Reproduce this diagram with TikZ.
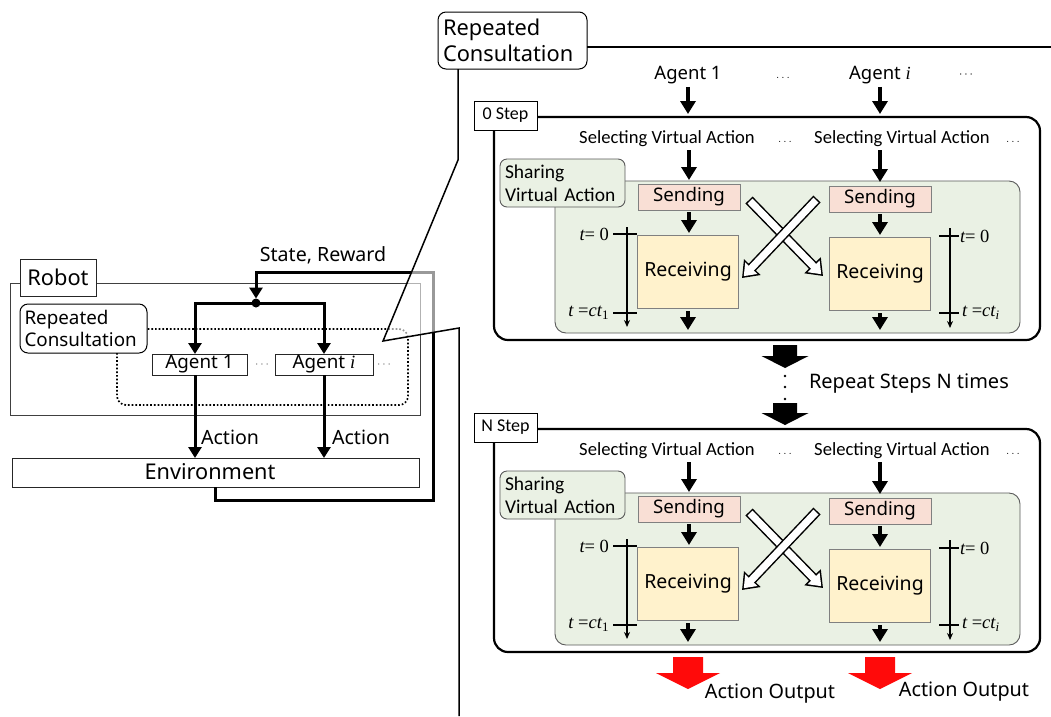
\documentclass[tikz,border=0pt]{standalone}
\usepackage{fontspec}
\newfontfamily\mfont{Noto Sans}
\newfontfamily\cfont{Carlito}
\newfontfamily\vfont{Liberation Serif}
\usetikzlibrary{arrows.meta}
\definecolor{panelgreen}{HTML}{EAF1E4}
\definecolor{sendpink}{HTML}{F9DFD5}
\definecolor{recvyellow}{HTML}{FFF2CC}
\definecolor{outred}{HTML}{FF0A0A}
\newcommand\fs[2]{\fontsize{#1}{#2}\selectfont}
% italic variable letters in a serif face
\newcommand\ti[1]{{\vfont\itshape #1}}

\tikzset{
  every node/.style={inner sep=0pt, outer sep=0pt},
  mtxt/.style={font=\mfont\fs{19.6}{23}},
  ctxt/.style={font=\cfont\fs{18.6}{22}},
  dotstxt/.style={font=\fs{13}{15}},
  framebox/.style={draw=black!75, line width=0.9pt},
  whitebox/.style={draw=black!85, line width=0.9pt, fill=white},
  roundlab/.style={draw=black, line width=1pt, fill=white, rounded corners=8pt},
  stepframe/.style={draw=black, line width=2.2pt, rounded corners=14pt},
  steplabel/.style={draw=black, line width=1pt, fill=white, font=\cfont\fs{18}{20}},
  greenpanel/.style={draw=black!65, line width=0.9pt, fill=panelgreen, rounded corners=11pt},
  greenlabel/.style={draw=black!65, line width=0.9pt, fill=panelgreen, rounded corners=7pt,
    font=\cfont\fs{19.5}{23}, text width=115pt, align=left},
  sendbox/.style={draw=black!50, line width=0.9pt, fill=sendpink, font=\mfont\fs{18.7}{22},
    minimum width=102pt, minimum height=26pt},
  recvbox/.style={draw=black!50, line width=0.9pt, fill=recvyellow, font=\mfont\fs{19.5}{22},
    minimum width=101pt, minimum height=73pt},
  thickarrow/.style={line width=3pt, -{Triangle[length=11pt,width=13pt]}},
  smallarrow/.style={line width=4.5pt, -{Triangle[length=13pt,width=15pt]}},
  timearrow/.style={line width=1.4pt, -{Stealth[length=7pt,width=6pt]}},
  tickline/.style={line width=1.4pt},
  mathlab/.style={font=\vfont\fs{18.5}{21}},
}

% hollow (outlined) arrow between two named points
\newcommand\hollowarrow[2]{%
  \draw[line width=10pt, -{Triangle[length=15pt,width=22pt]}] (#1) -- (#2);
  \draw[white, line width=7pt, -{Triangle[length=11pt,width=16pt]},
        shorten <=1.5pt, shorten >=2.5pt] (#1) -- (#2);
}

% one consultation step: #1 name prefix, #2 label, #3 vertical shift
\newcommand\StepPanel[3]{%
\begin{scope}[yshift=#3, name prefix=#1-]
  \node[stepframe, minimum width=546pt, minimum height=223pt] (frame) at (767,228.5) {};
  \node[steplabel, minimum width=63pt, minimum height=29pt] (label) at (505.5,115.5) {#2};
  \node[ctxt] (sel1) at (667,139) {Selecting Virtual Action};
  \node[ctxt] (sel2) at (902,139) {Selecting Virtual Action};
  \node[dotstxt] (dotsA) at (785,142) {$\ldots$};
  \node[dotstxt] (dotsB) at (1013,142) {$\ldots$};
  \node[greenpanel, minimum width=465pt, minimum height=152pt] (share) at (787.5,257) {};
  \node[greenlabel, minimum width=125pt, minimum height=48pt] (sharelab) at (562.5,183) {Sharing\\Virtual Action};
  \node[sendbox] (send1) at (689,197) {Sending};
  \node[sendbox] (send2) at (880,199) {Sending};
  \node[recvbox] (recv1) at (688,271.5) {Receiving};
  \node[recvbox] (recv2) at (880,273.5) {Receiving};
  % virtual action flow
  \draw[smallarrow, shorten >=4pt] ([yshift=-3pt]send1.north |- sel1.south) -- (send1.north);
  \draw[smallarrow, shorten >=4pt] ([yshift=-3pt]send2.north |- sel2.south) -- (send2.north);
  \draw[smallarrow, shorten >=2pt] ([yshift=-2pt]send1.south) -- (send1.south |- recv1.north);
  \draw[smallarrow, shorten >=2pt] ([yshift=-2pt]send2.south) -- (send2.south |- recv2.north);
  \draw[smallarrow] ([yshift=-3pt]recv1.south) -- ([yshift=3pt]recv1.south |- share.south);
  \draw[smallarrow] ([yshift=-3pt]recv2.south) -- ([yshift=3pt]recv2.south |- share.south);
  % exchange of virtual actions
  \coordinate (xa1) at (749,200);
  \coordinate (xa2) at (823,276);
  \coordinate (xb1) at (817,199);
  \coordinate (xb2) at (742,278);
  \hollowarrow{xa1}{xa2}
  \hollowarrow{xb1}{xb2}
  % time axes
  \coordinate (tla) at (627,227);
  \coordinate (tlb) at (627,327);
  \draw[timearrow] (tla) -- (tlb);
  \draw[tickline] (613,234) -- (637,234);
  \draw[tickline] (613,313) -- (637,313);
  \node[mathlab, anchor=east] (tl0) at (609,234) {\ti{t}= 0};
  \node[mathlab, anchor=east] (tl1) at (609,313) {\ti{t}~=\ti{ct}\textsubscript{1}};
  \coordinate (tra) at (950,228);
  \coordinate (trb) at (950,328);
  \draw[timearrow] (tra) -- (trb);
  \draw[tickline] (939,236) -- (959,236);
  \draw[tickline] (939,313) -- (959,313);
  \node[mathlab, anchor=west] (tr0) at (960,236) {\ti{t}= 0};
  \node[mathlab, anchor=west] (tr1) at (962,313) {\ti{t}~=\ti{ct}\textsubscript{\ti{i}}};
\end{scope}}

\begin{document}
\begin{tikzpicture}[x=1pt, y=-1pt]
\useasboundingbox (0,0) rectangle (1051,716);

% ---------------- robot overview ----------------
\draw[framebox] (10,283) rectangle (420,415);
\node[whitebox, minimum width=76pt, minimum height=37pt, font=\mfont\fs{21.8}{24}] (robot) at (58,277.5) {Robot};
\draw[dotted, line width=1.7pt, rounded corners=9pt] (117,329) rectangle (408,405);
\node[roundlab, minimum width=127pt, minimum height=49pt, font=\mfont\fs{18.8}{22},
      text width=118pt, align=left] (rcl) at (83.5,328.5) {Repeated\\Consultation};
\node[whitebox, minimum width=95pt, minimum height=21pt, font=\mfont\fs{18.8}{20}] (ag1) at (199.5,364.5) {Agent 1};
\node[whitebox, minimum width=98pt, minimum height=21pt, font=\mfont\fs{18.8}{20}] (agi) at (324,364.5) {Agent \ti{i}};
\node[dotstxt, text=black!60] (dl1) at (262,365) {$\cdots$};
\node[dotstxt, text=black!60] (dl2) at (384,365) {$\cdots$};
\node[whitebox, minimum width=407pt, minimum height=29pt, font=\mfont\fs{21.7}{24}] (env) at (215.5,472.5) {};
\node[font=\mfont\fs{21.7}{24}] (envtxt) at (210,472) {Environment};

\node[circle, fill, minimum size=9pt] (hub) at (256,303) {};
\coordinate (ag1in) at ([xshift=-4.5pt]ag1.north);
\coordinate (ag1out) at ([xshift=-4.5pt]ag1.south);
\draw[thickarrow] (hub.center) -| (ag1in);
\draw[thickarrow] (hub.center) -| (agi.north);
\draw[thickarrow] (ag1out) -- (ag1out |- env.north);
\draw[thickarrow] (agi.south) -- (agi.south |- env.north);
\node[mtxt, anchor=west] (act1) at (201,437) {Action};
\node[mtxt, anchor=west] (act2) at (332,437) {Action};

% state / reward feedback loop
\coordinate (fb1) at (215.5,500);
\coordinate (fb2) at (433,500);
\coordinate (fb3) at (433,272);
\coordinate (fb4) at (256,272);
\draw[thickarrow, line join=miter] (env.south) -- (fb1) -- (fb2) -- (fb3) -- (fb4) -- (hub.north);
\node[mtxt] (sr) at (323,255) {State, Reward};

% ---------------- magnified consultation ----------------
\fill[white, fill opacity=0.6] (458,160) -- (383,341) -- (459,328) -- cycle;
\node[roundlab, minimum width=149pt, minimum height=57pt, font=\mfont\fs{21.8}{26},
      text width=139pt, align=left] (rc) at (512.5,40.5) {Repeated\\Consultation};
\coordinate (rcline) at (1051,47);
\coordinate (w1) at (458,160);
\coordinate (w2) at (383,341);
\coordinate (w3) at (459,328);
\coordinate (w4) at (459,716);
\draw[line width=1.5pt] (rcline -| rc.east) -- (rcline);
\draw[line width=1.5pt, line join=miter] (w1 |- rc.south) -- (w1) -- (w2) -- (w3) -- (w4);

\node[mtxt, font=\mfont\fs{18.5}{22}] (ta1) at (688,75) {Agent 1};
\node[dotstxt] (td1) at (783,78) {$\ldots$};
\node[mtxt, font=\mfont\fs{18.5}{22}] (tai) at (880,75) {Agent \ti{i}};
\node[dotstxt] (td2) at (966,75) {$\cdots$};

\StepPanel{p0}{0 Step}{0pt}
\StepPanel{pN}{N Step}{-312pt}

\draw[smallarrow, shorten >=3pt] ([yshift=-3pt]ta1.south) -- (ta1.south |- p0-frame.north);
\draw[smallarrow, shorten >=3pt] ([yshift=-3pt]tai.south) -- (tai.south |- p0-frame.north);

% repetition between the steps
\fill (773,345) -- (797,345) -- (797,356) -- (808.5,356) -- (785,368) -- (761.5,356) -- (773,356) -- cycle;
\fill (773,403) -- (797,403) -- (797,413) -- (808.5,413) -- (785,425) -- (761.5,413) -- (773,413) -- cycle;
\fill (785,376) circle (1.3pt) (785,387) circle (1.3pt) (785,399) circle (1.3pt);
\node[mtxt, font=\mfont\fs{20}{22}, anchor=west] (rep) at (809,384) {Repeat Steps N times};

% outputs
\fill[outred] (673,657) -- (703,657) -- (703,673) -- (720,673) -- (688,689) -- (656,673) -- (673,673) -- cycle;
\fill[outred] (865,657) -- (895,657) -- (895,673) -- (912,673) -- (880,689) -- (848,673) -- (865,673) -- cycle;
\node[mtxt, font=\mfont\fs{19.8}{22}] (out1) at (770,694) {Action Output};
\node[mtxt, font=\mfont\fs{19.8}{22}] (out2) at (964,692) {Action Output};
\end{tikzpicture}
\end{document}
